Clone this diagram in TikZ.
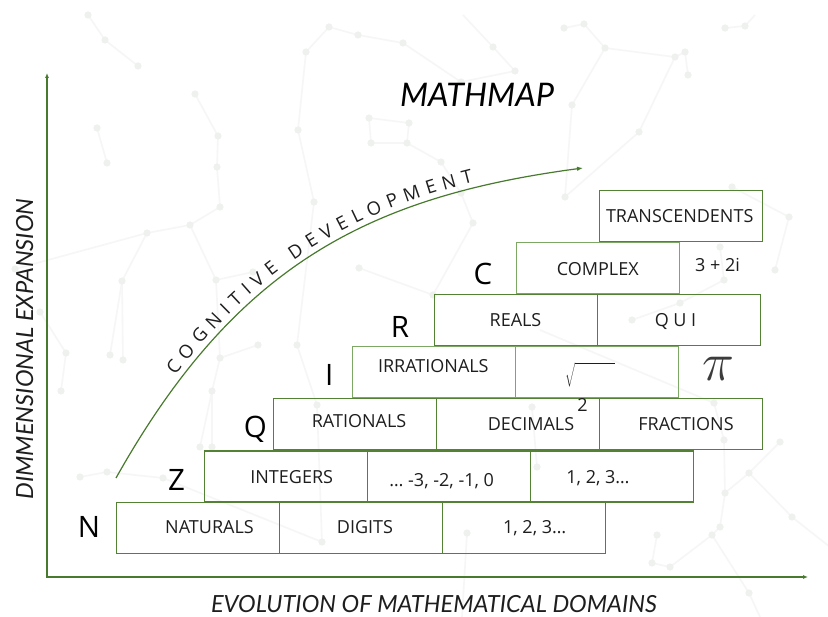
\documentclass[tikz,border=0pt]{standalone}
\usepackage{fix-cm}
\usepackage{fontspec}
\setmainfont{Open Sans}
\newfontfamily\latofont{Lato}
\usetikzlibrary{arrows.meta,decorations.text}

\definecolor{boxgreen}{RGB}{84,130,53}
\definecolor{softgreen}{RGB}{125,168,100}
\definecolor{axisgreen}{RGB}{72,122,46}
\definecolor{inkgray}{RGB}{30,30,30}
\definecolor{constline}{RGB}{245,246,245}
\definecolor{constdot}{RGB}{238,241,238}

\tikzset{
  brick/.style={draw=boxgreen, line width=1.1pt, minimum width=163pt,
    minimum height=51pt, anchor=north west, inner sep=0pt},
  softbrick/.style={brick, draw=softgreen},
  lbl/.style={font=\fontsize{18}{20}\selectfont, text=inkgray, inner sep=0pt, anchor=base},
  setname/.style={font=\fontsize{29.5}{32}\selectfont, text=black, inner sep=0pt, anchor=base},
  axislabel/.style={font=\latofont\itshape\fontsize{23.6}{26}\selectfont, text=inkgray,
    inner sep=0pt, anchor=base},
  axisline/.style={draw=axisgreen, line width=1.3pt,
    {Latex[length=5pt,width=4pt]}-{Latex[length=5pt,width=4pt]}},
  growth/.style={draw=axisgreen, line width=1.2pt, -{Latex[length=6pt,width=4.5pt]}},
  constellation/.style={draw=constline, line width=1.6pt, line join=round},
}

\begin{document}
\begin{tikzpicture}[x=1pt,y=-1pt]
\useasboundingbox (0,0) rectangle (828,617);
\fill[white] (0,0) rectangle (828,617);

% faint star-chart texture in the background
\begin{scope}[constellation]
  \draw (88,15) -- (105,40) -- (138,66);
  \draw (97,128) -- (107,163);
  \draw (195,94) -- (218,136) -- (217,167) -- (220,207) -- (190,225) -- (147,233) -- (15,269);
  \draw (190,225) -- (216,280) -- (253,272);
  \draw (147,233) -- (122,281) -- (110,355);
  \draw (122,281) -- (123,360);
  \draw (216,280) -- (220,358) -- (212,391) -- (200,447);
  \draw (212,391) -- (212,447);
  \draw (220,358) -- (258,345);
  \draw (40,312) -- (66,353) -- (61,391);
  \draw (80,477) -- (107,472) -- (163,478) -- (322,542);
  \draw (314,202) -- (297,345) -- (317,405) -- (322,542);
  \draw (329,27) -- (306,52) -- (298,130) -- (314,202);
  \draw (329,27) -- (358,35) -- (403,43) -- (461,82) -- (515,71) -- (493,47) -- (463,15);
  \draw (369,118) -- (409,123) -- (407,143) -- (371,143) -- cycle;
  \draw (407,143) -- (441,162) -- (461,193) -- (473,223);
  \draw (359,268) -- (433,295) -- (473,223);
  \draw (564,28) -- (584,24) -- (605,48) -- (675,57) -- (685,52) -- (688,75);
  \draw (605,48) -- (572,105) -- (565,197) -- (639,132) -- (675,57);
  \draw (725,28) -- (745,26) -- (755,15);
  \draw (732,187) -- (789,217) -- (775,270);
  \draw (720,247) -- (724,280) -- (680,303) -- (632,320);
  \draw (540,330) -- (714,403) -- (724,440) -- (725,493) -- (720,527) -- (712,535);
  \draw (780,442) -- (749,473) -- (725,493);
  \draw (749,473) -- (792,517) -- (830,547);
  \draw (712,535) -- (670,567) -- (652,563) -- (657,535);
  \draw (712,535) -- (749,593) -- (760,617);
  \draw (532,407) -- (537,467);
  \draw (467,533) -- (462,617);
\end{scope}
\foreach \p in {(88,15),(105,40),(138,66),(97,128),(107,163),(195,94),(218,136),(217,167),
  (220,207),(190,225),(147,233),(15,269),(216,280),(253,272),(122,281),(110,355),(123,360),
  (220,358),(212,391),(200,447),(212,447),(258,345),(40,312),(66,353),(61,391),(80,477),
  (107,472),(163,478),(322,542),(314,202),(297,345),(317,405),(329,27),(306,52),(298,130),
  (358,35),(403,43),(461,82),(515,71),(493,47),(369,118),(409,123),(407,143),(371,143),
  (441,162),(461,193),(473,223),(359,268),(433,295),(564,28),(584,24),(605,48),(675,57),
  (685,52),(688,75),(572,105),(565,197),(639,132),(725,28),(745,26),(732,187),(789,217),
  (775,270),(720,247),(724,280),(680,303),(632,320),(714,403),(724,440),(725,493),(720,527),
  (712,535),(780,442),(749,473),(792,517),(670,567),(652,563),(657,535),(749,593),(532,407),
  (537,467),(467,533)}
  \fill[constdot] \p circle[radius=3.6pt];

% axes
\coordinate (ytop) at (47,73);
\coordinate (origin) at (47,577);
\coordinate (xend) at (808,577);
\draw[axisline] (ytop) -- (origin) -- (xend);

% growth curve with its caption
\coordinate (gstart) at (116,478);
\coordinate (gend) at (583,168);
\draw[growth] (gstart) .. controls (234,268) and (365,197) .. (gend);
\path[font=\fontsize{18.5}{20}\selectfont,
  decorate, decoration={text along path, raise=6pt, text color=inkgray,
    text={|\fontsize{18.5}{20}\selectfont|COGNITIVE DEVELOPMENT},
    text align={left indent=118pt, right indent=110pt, fit to path}}]
  (gstart) .. controls (234,268) and (365,197) .. (gend);

% titles
\node[font=\latofont\itshape\fontsize{32.5}{35}\selectfont, text=black, inner sep=0pt, anchor=base]
  (title) at (477,107) {MATHMAP};
\node[axislabel] (xlabel) at (434,612.5) {EVOLUTION OF MATHEMATICAL DOMAINS};
\node[axislabel, rotate=90] (ylabel) at (33,349) {DIMMENSIONAL EXPANSION};

% staircase of number sets
\node[brick] (nat)  at (116,502) {};
\node[brick] (dig)  at (279,502) {};
\node[brick] (natq) at (442,502) {};

\node[brick] (int)  at (204,450.5) {};
\node[brick] (neg)  at (367,450.5) {};
\node[brick] (pos)  at (530,450.5) {};

\node[brick] (rat)  at (273,398) {};
\node[brick] (dec)  at (436,398) {};
\node[brick] (frac) at (599,398) {};

\node[softbrick] (irr)  at (352,346) {};
\node[softbrick] (root) at (515,346) {};

\node[brick] (real) at (434,294) {};
\node[brick] (qui)  at (597,294) {};

\node[softbrick] (cpx) at (516,242) {};

\node[brick] (trans) at (599,190) {};

% set letters
\node[setname] (lN) at (89,537.3) {N};
\node[setname] (lZ) at (176.5,490.7) {Z};
\node[setname] (lQ) at (255.3,437.3) {Q};
\node[setname] (lI) at (329.3,386) {I};
\node[setname] (lR) at (400,338) {R};
\node[setname] (lC) at (483,285) {C};

% brick captions
\node[lbl] (tnat)  at (209.5,533) {NATURALS};
\node[lbl] (tdig)  at (365,533) {DIGITS};
\node[lbl] (tnatq) at (534.7,533) {1, 2, 3…};
\node[lbl] (tint)  at (291.7,483.5) {INTEGERS};
\node[lbl] (tneg)  at (441.7,486.7) {… -3, -2, -1, 0};
\node[lbl] (tpos)  at (598,484) {1, 2, 3…};
\node[lbl] (trat)  at (359,428) {RATIONALS};
\node[lbl] (tdec)  at (531,430.7) {DECIMALS};
\node[lbl] (tfrac) at (686,430.7) {FRACTIONS};
\node[lbl] (tirr)  at (433.3,373) {IRRATIONALS};
\node[lbl] (treal) at (515.5,327) {REALS};
\node[lbl] (tqui)  at (675.5,327) {Q U I};
\node[lbl] (tcpx)  at (597.8,275.7) {COMPLEX};
\node[lbl] (tcz)   at (717.5,271.7) {3 + 2i};
\node[lbl] (ttr)   at (679.7,223) {TRANSCENDENTS};

% symbols
\node[inner sep=0pt, text=inkgray, font=\fontsize{18}{20}\selectfont] (sqrt) at (590,375)
  {$\sqrt{\rule[-3pt]{0pt}{19pt}\hspace{40pt}}$};
\node[lbl] (two) at (582.5,411.7) {2};
\node[inner sep=0pt, text={rgb,255:red,60;green,60;blue,60},
  font=\fontsize{54}{54}\selectfont] (pi) at (718.5,368.5) {$\pi$};
\end{tikzpicture}
\end{document}
